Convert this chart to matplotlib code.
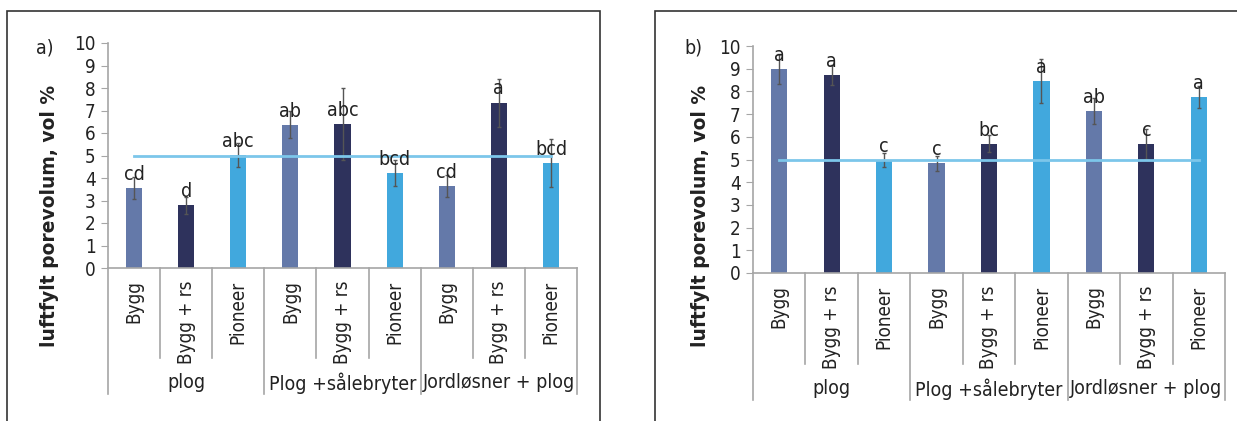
import numpy as np
import matplotlib
matplotlib.use("Agg")
import matplotlib.pyplot as plt
from matplotlib.patches import Rectangle
import matplotlib.transforms as mtransforms

plt.rcParams['font.family'] = ['DejaVu Sans']
plt.rcParams['font.stretch'] = 'condensed'

# data
crops = ['Bygg', 'Bygg + rs', 'Pioneer'] * 3
groups = ['plog', 'Plog +sålebryter', 'Jordløsner + plog']
colors = ['#6479a9', '#2e325c', '#41a8dd'] * 3

vals_a = [3.55, 2.78, 5.02, 6.36, 6.4, 4.22, 3.64, 7.35, 4.67]
err_a = [0.5, 0.38, 0.55, 0.6, 1.62, 0.56, 0.48, 1.07, 1.08]
letters_a = ['cd', 'd', 'abc', 'ab', 'abc', 'bcd', 'cd', 'a', 'bcd']

vals_b = [8.99, 8.72, 4.98, 4.84, 5.69, 8.46, 7.14, 5.69, 7.76]
err_b = [0.65, 0.45, 0.3, 0.33, 0.37, 0.95, 0.57, 0.66, 0.47]
letters_b = ['a', 'a', 'c', 'c', 'bc', 'a', 'ab', 'c', 'a']

threshold = 5.0

W, H = 1237, 421
fig = plt.figure(figsize=(W / 100, H / 100), dpi=100)

grey = '#a6a6a6'
txt = '#222222'


def panel(rect, vals, errs, letters, tag, tag_x, ylab_x):
    ax = fig.add_axes(rect)
    x = np.arange(len(vals))
    ax.bar(x, vals, width=0.31, color=colors, zorder=2)
    ax.errorbar(x, vals, yerr=errs, fmt='none', ecolor='#555555',
                elinewidth=1, capsize=1.5, capthick=1, zorder=3)
    ax.plot([x[0], x[-1]], [threshold, threshold], color='#7cc6ea', lw=2, zorder=4)
    for xi, v, t in zip(x, vals, letters):
        ax.annotate(t, (xi, v), xytext=(0, 3), textcoords='offset points',
                    ha='center', va='bottom', fontsize=14, color=txt, zorder=5)
    ax.set_xlim(-0.5, len(vals) - 0.5)
    ax.set_ylim(0, 10)
    ax.set_yticks(range(0, 11))
    ax.tick_params(axis='y', length=5, color=grey, labelsize=13.5, labelcolor=txt, pad=4)
    ax.set_xticks([])
    for s in ['top', 'right']:
        ax.spines[s].set_visible(False)
    for s in ['left', 'bottom']:
        ax.spines[s].set_color(grey)
        ax.spines[s].set_linewidth(1.2)

    trans = mtransforms.blended_transform_factory(ax.transData, ax.transAxes)
    # category labels
    for xi, c in zip(x, crops):
        ax.text(xi, -0.055, c, rotation=90, ha='center', va='top', fontsize=13.5,
                color=txt, transform=trans)
    # separators
    for b in np.arange(-0.5, len(vals), 1.0):
        low = -0.56 if (b + 0.5) % 3 == 0 else -0.4
        ax.plot([b, b], [0, low], color=grey, lw=1.2, transform=trans, clip_on=False)
    for gi, g in enumerate(groups):
        ax.text(gi * 3 + 1, -0.51, g, ha='center', va='center', fontsize=14,
                color=txt, transform=trans)

    fig.text(tag_x, 1 - 48 / H, tag, fontsize=14, color=txt, ha='left', va='center')
    fig.text(ylab_x, 1 - 216 / H, 'luftfylt porevolum, vol %', rotation=90,
             fontsize=13.5, fontweight='bold', fontstretch='normal',
             ha='center', va='center', color=txt)
    return ax


panel([108 / W, 1 - 268 / H, (577 - 108) / W, 225 / H],
      vals_a, err_a, letters_a, 'a)', 36 / W, 50 / W)
panel([753 / W, 1 - 273 / H, (1225 - 753) / W, 227 / H],
      vals_b, err_b, letters_b, 'b)', 684 / W, 700 / W)

# frames around panels
fig.add_artist(Rectangle((7 / W, -0.2), (600 - 7) / W, 0.2 + 1 - 11 / H,
                         transform=fig.transFigure, fill=False, ec='#333333', lw=1.2))
fig.add_artist(Rectangle((655 / W, -0.2), 0.6, 0.2 + 1 - 11 / H,
                         transform=fig.transFigure, fill=False, ec='#333333', lw=1.2))

fig.savefig('out.png', dpi=100)
